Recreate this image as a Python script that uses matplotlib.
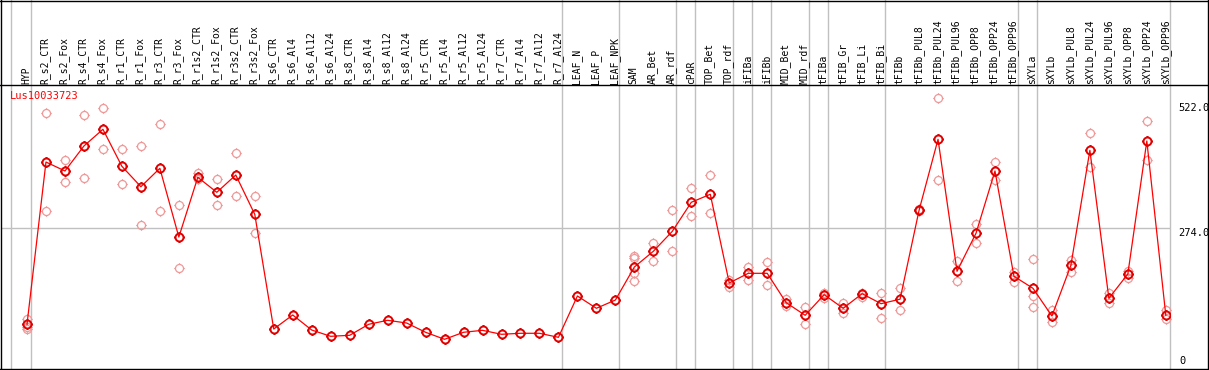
import numpy as np
import matplotlib
matplotlib.use("Agg")
import matplotlib.pyplot as plt
from matplotlib.lines import Line2D
from matplotlib.path import Path
import matplotlib.transforms as mtrans

# ---------------- data ----------------
title = "Lus10033723"
categories = [
    "HYP", "R_s2_CTR", "R_s2_Fox", "R_s4_CTR", "R_s4_Fox", "R_r1_CTR", "R_r1_Fox",
    "R_r3_CTR", "R_r3_Fox", "R_r1s2_CTR", "R_r1s2_Fox", "R_r3s2_CTR", "R_r3s2_Fox",
    "R_s6_CTR", "R_s6_Al4", "R_s6_Al12", "R_s6_Al24", "R_s8_CTR", "R_s8_Al4",
    "R_s8_Al12", "R_s8_Al24", "R_r5_CTR", "R_r5_Al4", "R_r5_Al12", "R_r5_Al24",
    "R_r7_CTR", "R_r7_Al4", "R_r7_Al12", "R_r7_Al24", "LEAF_N", "LEAF_P", "LEAF_NPK",
    "SAM", "AR_Bet", "AR_rdf", "cPAR", "TOP_Bet", "TOP_rdf", "iFIBa", "iFIBb",
    "MID_Bet", "MID_rdf", "tFIBa", "tFIB_Gr", "tFIB_Li", "tFIB_Bi", "tFIBb",
    "tFIBb_PUL8", "tFIBb_PUL24", "tFIBb_PUL96", "tFIBb_OPP8", "tFIBb_OPP24",
    "tFIBb_OPP96", "sXYLa", "sXYLb", "sXYLb_PUL8", "sXYLb_PUL24", "sXYLb_PUL96",
    "sXYLb_OPP8", "sXYLb_OPP24", "sXYLb_OPP96",
]
means = [
    83.5, 405.5, 387.7, 437.3, 470.4, 397.0, 356.5, 393.0, 256.7, 375.2, 345.4, 379.7, 301.8,
    74.2, 102.0, 72.2, 59.7, 61.7, 83.5, 91.5, 86.1, 67.7, 53.8, 67.7, 71.6,
    63.7, 65.7, 65.7, 57.7, 139.7, 115.3, 131.7,
    197.2, 228.4, 268.0, 325.6, 341.5, 165.5, 184.7, 184.7,
    126.4, 101.4, 142.3, 115.3, 144.2, 124.4, 133.4,
    309.7, 450.6, 188.7, 264.1, 387.7, 178.8, 155.0, 100.0,
    200.6, 428.8, 135.1, 183.3, 447.2, 101.4,
]
replicates = [
    [95, 78, 75], [502, 308], [409, 365], [498, 373], [512, 431], [431, 361], [437, 280],
    [480, 308], [320, 195], [383, 371], [371, 320], [423, 338], [338, 264],
    [], [], [], [], [], [], [], [], [], [], [], [], [], [], [], [], [], [], [],
    [220, 215, 185, 169], [244, 210], [310, 228], [353, 298], [379, 304], [171, 158],
    [198, 172], [207, 161], [133, 119], [117, 84], [146, 136], [126, 105], [146, 138],
    [145, 97], [155, 111], [312, 308], [532, 369], [209, 169], [283, 244], [406, 369],
    [188, 168], [213, 140, 117], [111, 88], [212, 188], [463, 396], [145, 126],
    [190, 176], [486, 409], [111, 94],
]
ytick_values = [522.0, 274.0, 0]
ytick_labels = ["522.0", "274.0", "0"]
group_ends = [0, 28, 31, 34, 35, 37, 38, 39, 41, 42, 45, 52, 53]

# ---------------- figure ----------------
W, H = 1209, 370
DPI = 100
fig = plt.figure(figsize=(W / DPI, H / DPI), dpi=DPI)
fig.patch.set_facecolor("white")

ax_l, ax_r, ax_t, ax_b = 1, 1170, 85, 369
ax = fig.add_axes([ax_l / W, 1 - ax_b / H, (ax_r - ax_l) / W, (ax_b - ax_t) / H])
ax.set_facecolor("none")
for s in ax.spines.values():
    s.set_visible(False)
ax.set_xticks([])
ax.set_yticks([])

x0_px, dx_px = 27.0, 18.98
ax.set_xlim((ax_l - x0_px) / dx_px, (ax_r - x0_px) / dx_px)
# value 274 at pixel 228.3, 522 at pixel 103.3
ppu = (228.3 - 103.3) / (522 - 274)
ax.set_ylim(274 - (ax_b - 228.3) / ppu, 274 + (228.3 - ax_t) / ppu)

grey = "#c0c0c0"
ext = (ax_b - 0) / (ax_b - ax_t)
ax.axhline(274, color=grey, lw=1, zorder=1)
for g in group_ends:
    ax.axvline(g + 4 / dx_px, ymin=0, ymax=ext, color=grey, lw=1, clip_on=False, zorder=1)
ax.axvline((11 - x0_px) / dx_px, ymin=0, ymax=ext, color=grey, lw=1, clip_on=False, zorder=1)
ax.axvline((ax_r - x0_px) / dx_px, ymin=0, ymax=ext, color=grey, lw=1, clip_on=False, zorder=1)

# circle marker with small ticks
TL = 1.3
circ = Path.unit_circle()
verts = list(circ.vertices)
codes = list(circ.codes)
for (a, b) in [((1.0, 0), (TL, 0)), ((-1.0, 0), (-TL, 0)), ((0, 1.0), (0, TL)), ((0, -1.0), (0, -TL))]:
    verts += [a, b]
    codes += [Path.MOVETO, Path.LINETO]
mk = Path(verts, codes)
msize = 2 * 4.0 * TL / 1.389  # circle radius ~4 px

xs = np.arange(len(categories))
rx, ry = [], []
for i, reps in enumerate(replicates):
    for v in reps:
        rx.append(i)
        ry.append(v)
ax.plot(rx, ry, linestyle="none", marker=mk, markersize=msize, markerfacecolor="none",
        markeredgecolor="#f09898", markeredgewidth=0.9, zorder=2, clip_on=False)
ax.plot(xs, means, color="#ff0000", lw=0.9, zorder=3)
ax.plot(xs, means, linestyle="none", marker=mk, markersize=msize, markerfacecolor="none",
        markeredgecolor="#e00000", markeredgewidth=1.4, zorder=4)

mono = "DejaVu Sans Mono"
# header labels
for i, c in enumerate(categories):
    ax.text(i - 0.03, 1 + 1.5 / (ax_b - ax_t), c, rotation=90, ha="center", va="bottom",
            transform=ax.get_xaxis_transform(), fontsize=7, family=mono, color="black",
            clip_on=False)

# title
ax.text((10 - x0_px) / dx_px, 1 - 6 / (ax_b - ax_t), title, color="#ff0000", fontsize=7.5,
        family=mono, ha="left", va="top", transform=ax.get_xaxis_transform())

# right tick labels
tr = mtrans.blended_transform_factory(fig.transFigure, ax.transData)
for v, lab in zip(ytick_values, ytick_labels):
    if v == 0:
        ax.text(1179 / W, v, lab, transform=tr, fontsize=7.5, family=mono, ha="left",
                va="bottom", clip_on=False)
    else:
        ax.text(1178 / W, v, lab, transform=tr, fontsize=7.5, family=mono, ha="left",
                va="top", clip_on=False)

# frame lines
def fline(x1, y1, x2, y2):
    fig.add_artist(Line2D([x1 / W, x2 / W], [1 - y1 / H, 1 - y2 / H], color="black",
                          lw=1.0, transform=fig.transFigure))

fline(0, 0.5, W, 0.5)
fline(0.5, 0, 0.5, H)
fline(W - 1, 0, W - 1, H)
fline(0, 85, W, 85)
fline(0, 369, W, 369)

fig.savefig("out.png", dpi=DPI, facecolor="white")
